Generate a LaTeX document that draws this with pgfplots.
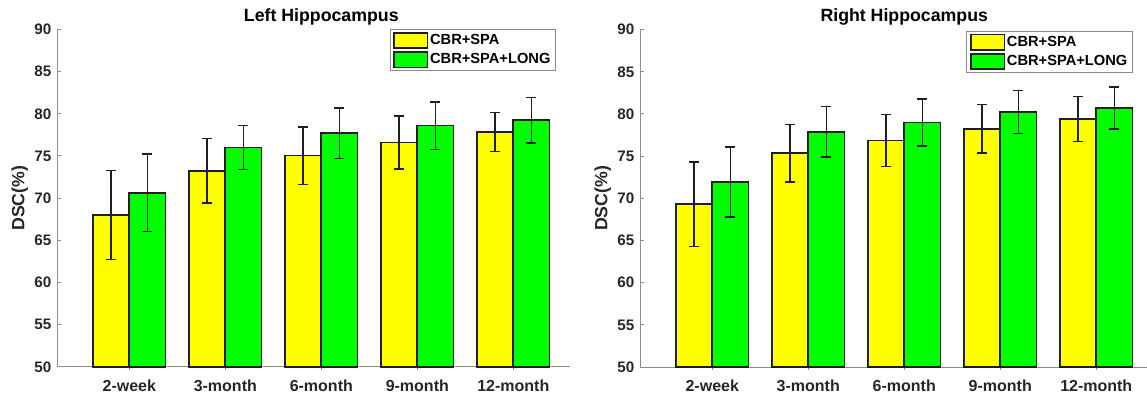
\documentclass[border=0pt]{standalone}
\usepackage{fontspec}
\setmainfont{Liberation Sans}
\usepackage{pgfplots}
\pgfplotsset{compat=1.18}
\definecolor{txt}{RGB}{38,38,38}
\definecolor{axgray}{RGB}{140,140,140}
\definecolor{edge}{RGB}{30,30,30}
\definecolor{myyellow}{RGB}{255,255,0}
\definecolor{mygreen}{RGB}{0,255,0}
\pgfplotsset{
  every axis title shift=0pt,
  hippo/.style={
    scale only axis,
    width=396pt, height=253.1pt,
    xmin=0.25, xmax=5.75,
    ymin=50, ymax=90,
    ytick={50,55,...,90},
    xtick={1,2,3,4,5},
    xticklabels={2-week,3-month,6-month,9-month,12-month},
    axis x line*=bottom, axis y line*=left,
    axis line style={axgray, line width=0.75pt},
    tick style={axgray, line width=0.75pt},
    tick align=inside,
    major tick length=2.5pt,
    /pgf/number format/assume math mode=true,
    tick label style={text=txt},
    yticklabel style={font=\bfseries\fontsize{11.4}{13}\selectfont, anchor=east, inner sep=0pt, xshift=-4.3pt},
    xticklabel style={font=\bfseries\fontsize{12}{14}\selectfont, anchor=base, inner sep=0pt, yshift=-15.9pt},
    title style={font=\bfseries\fontsize{13.3}{15}\selectfont, text=black, at={(0.5,1)}, anchor=base, yshift=5.8pt, inner sep=0pt},
    ylabel={DSC(\%)},
    ylabel style={font=\bfseries\fontsize{13.3}{15}\selectfont, text=txt, at={(axis description cs:-0.0712,0.5)}, anchor=center, inner sep=0pt},
    ybar, bar width=0.377,
    legend image code/.code={\draw[##1, line width=1.2pt] (0pt,-5.8pt) rectangle (25pt,5.8pt);},
    legend cell align=left,
    legend style={draw=axgray, line width=0.75pt, inner xsep=2.5pt, inner ysep=1.5pt,
      font=\bfseries\fontsize{11}{13}\selectfont, text=black,
      nodes={inner sep=1.3pt}, row sep=1.6pt},
    clip=false,
  },
  ybarY/.style={fill=myyellow, draw=edge, line width=1.3pt, bar shift=-0.1885,
    error bars/.cd, y dir=both, y explicit,
    error bar style={edge, line width=1.1pt},
    error mark options={rotate=90, mark size=3.75pt, edge, line width=1.1pt}},
  ybarG/.style={fill=mygreen, draw=edge, line width=1.3pt, bar shift=0.1885,
    error bars/.cd, y dir=both, y explicit,
    error bar style={edge, line width=1.1pt},
    error mark options={rotate=90, mark size=3.75pt, edge, line width=1.1pt}},
}
\begin{document}
\begin{tikzpicture}
\useasboundingbox (0,0) rectangle (860.25pt,295.5pt);
\clip (0,0) rectangle (860.25pt,295.5pt);
\begin{scope}
\clip (0,0) rectangle (427.5pt,295.5pt);
\begin{axis}[hippo, at={(42.98pt,20.33pt)}, anchor=south west,
  title={Left Hippocampus},
  legend style={at={(0.9445,1)}, anchor=north east}]
\addplot[ybarY] coordinates {
  (1,68.00) +- (0,5.25)
  (2,73.25) +- (0,3.85)
  (3,75.05) +- (0,3.40)
  (4,76.60) +- (0,3.15)
  (5,77.85) +- (0,2.30)
};
\addplot[ybarG] coordinates {
  (1,70.65) +- (0,4.60)
  (2,76.00) +- (0,2.60)
  (3,77.70) +- (0,3.00)
  (4,78.60) +- (0,2.80)
  (5,79.25) +- (0,2.70)
};
\legend{CBR+SPA,CBR+SPA+LONG}
\end{axis}
\end{scope}
\begin{axis}[hippo, at={(480.2pt,20.2pt)}, anchor=south west,
  title={Right Hippocampus},
  legend style={at={(0.933,0.995)}, anchor=north east}]
\addplot[ybarY] coordinates {
  (1,69.30) +- (0,5.00)
  (2,75.35) +- (0,3.40)
  (3,76.85) +- (0,3.10)
  (4,78.25) +- (0,2.85)
  (5,79.40) +- (0,2.65)
};
\addplot[ybarG] coordinates {
  (1,71.95) +- (0,4.15)
  (2,77.90) +- (0,3.00)
  (3,79.00) +- (0,2.80)
  (4,80.25) +- (0,2.55)
  (5,80.70) +- (0,2.50)
};
\legend{CBR+SPA,CBR+SPA+LONG}
\end{axis}
\end{tikzpicture}
\end{document}
